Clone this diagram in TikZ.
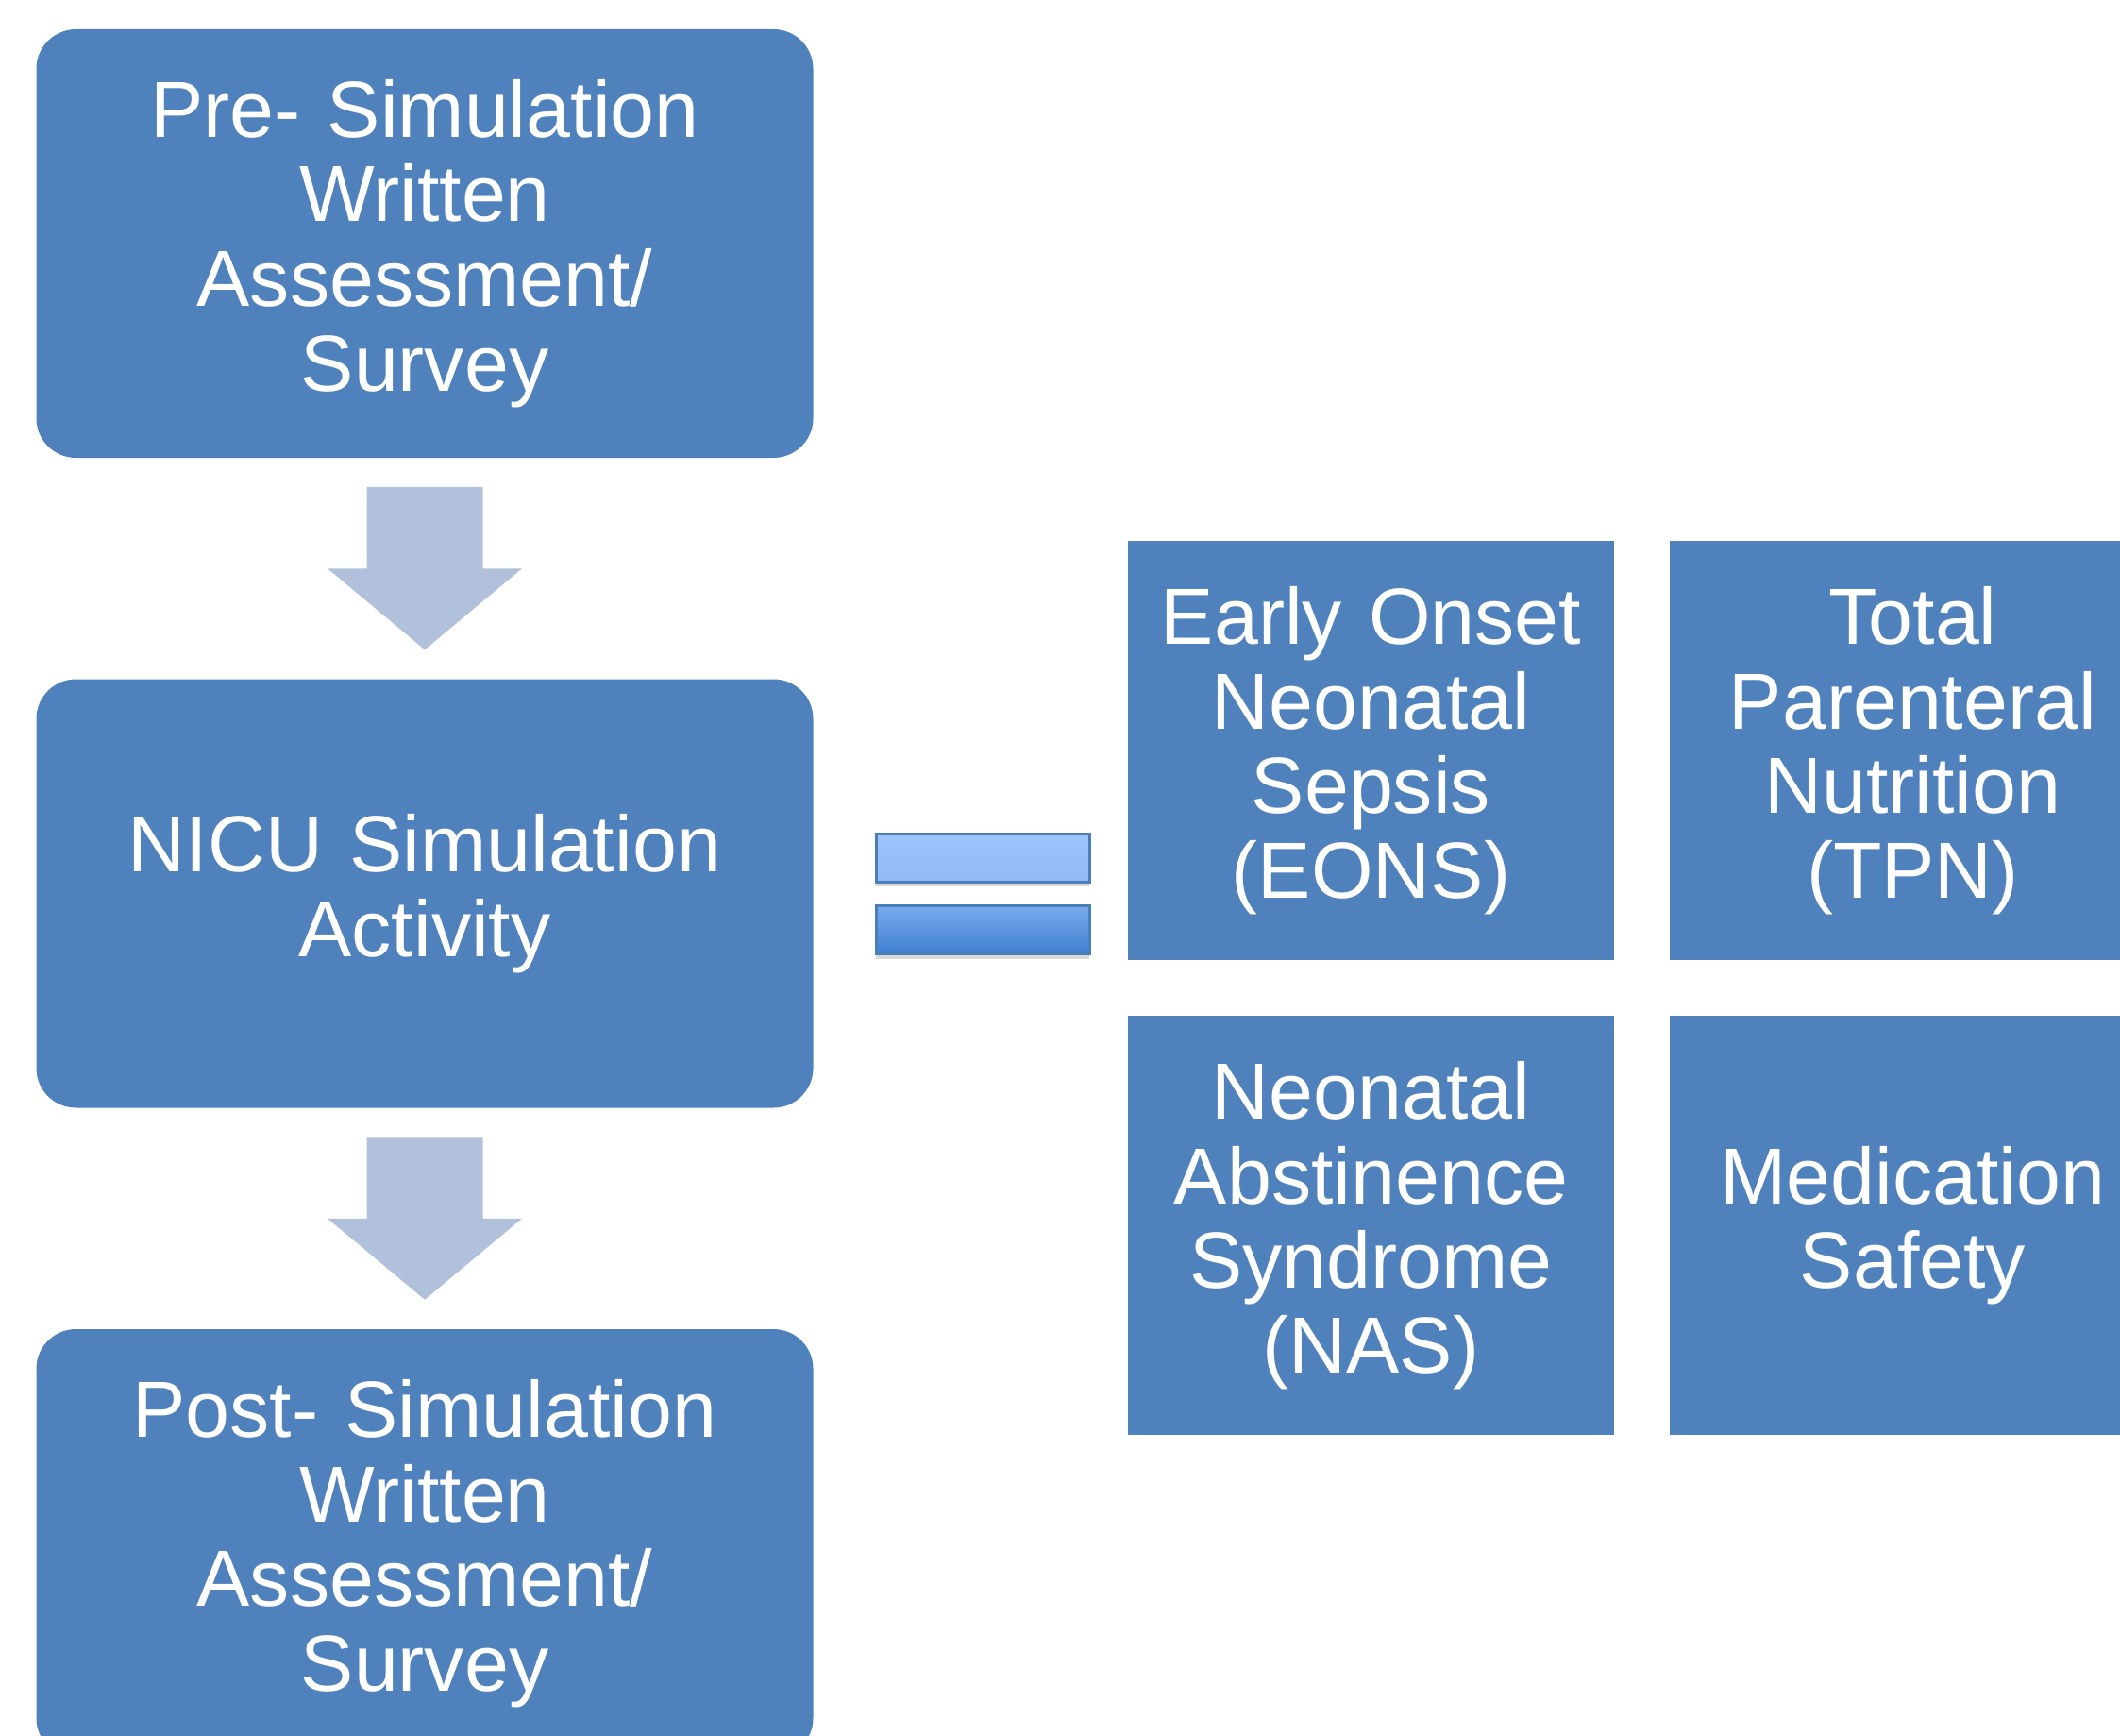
\documentclass[tikz,border=0pt]{standalone}
\usepackage{fontspec}
\setmainfont{Liberation Sans}
\usetikzlibrary{shadows,calc}
\definecolor{boxblue}{HTML}{4F81BD}
\definecolor{arrowblue}{HTML}{B2C1DB}
\definecolor{barline}{HTML}{4A7EBB}
\definecolor{barlighttop}{HTML}{9EC4FF}
\definecolor{barlightbot}{HTML}{93B9F4}
\definecolor{bardarktop}{HTML}{79ABEE}
\definecolor{bardarkbot}{HTML}{3E7ECF}

\tikzset{
  stage/.style={rounded corners=0.42cm, fill=boxblue, text=white,
    minimum width=8.23cm, minimum height=4.54cm, text width=8cm,
    align=center, inner sep=0pt, font=\fontsize{24}{25.5}\selectfont},
  topic/.style={fill=boxblue, text=white,
    minimum width=5.15cm, minimum height=4.44cm, text width=5.1cm,
    align=center, inner sep=0pt, font=\fontsize{24}{25.5}\selectfont},
  bar/.style={draw=barline, line width=0.03cm, minimum width=2.26cm,
    minimum height=0.51cm, inner sep=0pt,
    drop shadow={shadow xshift=0cm, shadow yshift=-0.05cm, opacity=0.3}},
}

\begin{document}
\begin{tikzpicture}
\clip (0,0) rectangle (22.46,-18.39);

% left column
\node[stage] (pre)  at (4.50,-2.58)  {Pre- Simulation\\Written\\Assessment/\\Survey};
\node[stage] (nicu) at (4.50,-9.465) {NICU Simulation\\Activity};
\node[stage] (post) at (4.50,-16.35) {Post- Simulation\\Written\\Assessment/\\Survey};

% block arrows
\foreach \a/\b in {pre/nicu,nicu/post}{
  \coordinate (mid) at ($(\a.south)!0.5!(\b.north)$);
  \fill[arrowblue] ($(mid)+(-0.615,0.865)$) -- ++(1.23,0) -- ++(0,-0.865)
    -- ++(0.415,0) -- ($(mid)+(0,-0.86)$) -- ($(mid)+(-1.03,0)$)
    -- ++(0.415,0) -- cycle;
}

% equals sign
\node[bar, top color=barlighttop, bottom color=barlightbot] (eqtop) at (10.41,-9.085) {};
\node[bar, top color=bardarktop, bottom color=bardarkbot] (eqbot) at (10.41,-9.85) {};

% topics
\node[topic] (eons) at (14.525,-7.95) {Early Onset\\Neonatal\\Sepsis\\(EONS)};
\node[topic] (tpn)  at (20.265,-7.95) {Total\\Parenteral\\Nutrition\\(TPN)};
\node[topic] (nas)  at (14.525,-12.98) {Neonatal\\Abstinence\\Syndrome\\(NAS)};
\node[topic] (med)  at (20.265,-12.98) {Medication\\Safety};
\end{tikzpicture}
\end{document}
